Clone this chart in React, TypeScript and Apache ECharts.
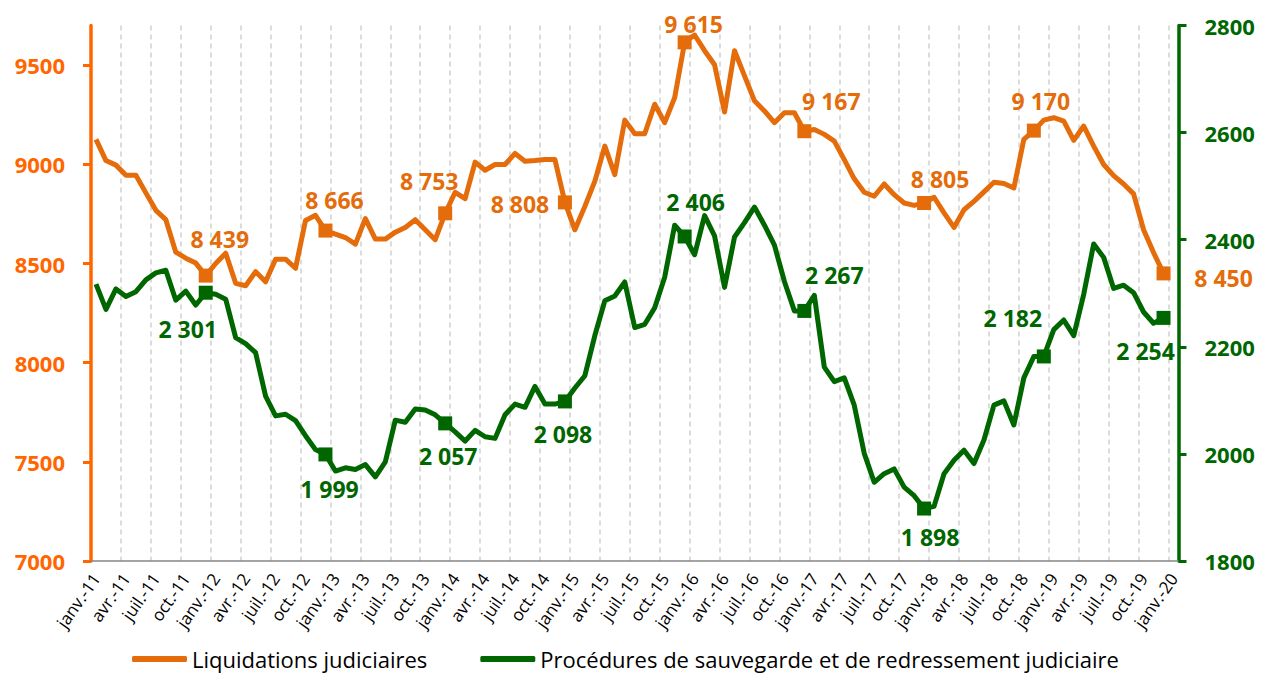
import React, { useEffect, useRef } from "react";
import * as echarts from "echarts";

const monthNames = ["janv.", "févr.", "mars", "avr.", "mai", "juin", "juil.", "août", "sept.", "oct.", "nov.", "déc."];
const years = ["11", "12", "13", "14", "15", "16", "17", "18", "19"];
const categories: string[] = [];
years.forEach((y) => monthNames.forEach((m) => categories.push(m + "-" + y)));
categories.push("janv.-20");

const liquidations = [
  9126, 9019, 8996, 8945, 8945, 8856, 8768, 8721, 8557, 8527, 8502, 8439,
  8500, 8552, 8400, 8388, 8459, 8408, 8522, 8522, 8476, 8717, 8743, 8666,
  8648, 8631, 8598, 8726, 8623, 8623, 8658, 8682, 8721, 8670, 8620, 8753,
  8859, 8827, 9011, 8970, 8999, 8999, 9055, 9016, 9019, 9024, 9024, 8808,
  8670, 8788, 8915, 9092, 8948, 9223, 9154, 9154, 9303, 9210, 9336, 9615,
  9652, 9573, 9502, 9264, 9573, 9446, 9320, 9269, 9210, 9260, 9260, 9167,
  9176, 9151, 9117, 9024, 8927, 8859, 8839, 8901, 8847, 8805, 8793, 8805,
  8834, 8755, 8682, 8771, 8813, 8861, 8910, 8903, 8881, 9126, 9170, 9223,
  9235, 9218, 9121, 9193, 9092, 8999, 8943, 8901, 8851, 8670, 8555, 8450,
];

const sauvegarde = [
  2317, 2270, 2308, 2294, 2303, 2325, 2338, 2343, 2287, 2304, 2278, 2301,
  2298, 2289, 2217, 2206, 2189, 2108, 2071, 2074, 2062, 2034, 2008, 1999,
  1968, 1974, 1971, 1980, 1957, 1985, 2063, 2059, 2084, 2082, 2073, 2057,
  2041, 2024, 2044, 2032, 2029, 2073, 2093, 2087, 2126, 2093, 2093, 2098,
  2123, 2146, 2221, 2286, 2295, 2321, 2236, 2242, 2273, 2330, 2427, 2406,
  2372, 2445, 2407, 2311, 2405, 2432, 2461, 2427, 2390, 2322, 2267, 2267,
  2296, 2162, 2135, 2142, 2091, 2001, 1947, 1963, 1972, 1938, 1922, 1898,
  1902, 1963, 1988, 2007, 1982, 2026, 2091, 2099, 2054, 2142, 2182, 2182,
  2232, 2250, 2221, 2298, 2392, 2367, 2309, 2315, 2301, 2265, 2244, 2254,
];

const leftTicks = [7000, 7500, 8000, 8500, 9000, 9500];
const rightTicks = [1800, 2000, 2200, 2400, 2600, 2800];

// labelled points (index -> label offset in px)
const liqMarks: Record<number, [number, number]> = {
  11: [14, -37], 23: [9, -31], 35: [-16, -32], 47: [-45, 2], 59: [9, -18],
  71: [27, -30], 83: [16, -24], 94: [7, -30], 107: [60, 5],
};
const sauvMarks: Record<number, [number, number]> = {
  11: [-18, 36], 23: [4, 35], 35: [3, 33], 47: [-2, 33], 59: [11, -34],
  71: [30, -36], 83: [6, 28], 95: [-31, -38], 107: [-18, 33],
};

const ORANGE = "#E46C0A";
const ORANGE_AXIS = "#FF6600";
const GREEN = "#006600";
const FONT = "'Open Sans', 'Noto Sans', sans-serif";

const fmt = (v: number) => String(v).replace(/\B(?=(\d{3})+(?!\d))/g, " ");

function buildData(values: number[], marks: Record<number, [number, number]>, color: string) {
  return values.map((v, i) => {
    const off = marks[i];
    if (!off) return { value: v, symbol: "none" };
    return {
      value: v,
      symbol: "rect",
      symbolSize: 14,
      label: {
        show: true,
        position: "inside",
        offset: off,
        formatter: () => fmt(v),
        color,
        fontSize: 23,
        fontWeight: "bold",
        fontFamily: FONT,
      },
    };
  });
}

export default function App() {
  const ref = useRef<HTMLDivElement>(null);
  useEffect(() => {
    if (!ref.current) return;
    const chart = echarts.init(ref.current, undefined, { renderer: "svg" });
    chart.setOption({
      animation: false,
      backgroundColor: "#ffffff",
      grid: { left: 91, right: 82.5, top: 25.5, bottom: 114 },
      legend: {
        left: 127,
        top: 643,
        itemWidth: 55,
        itemHeight: 6,
        itemGap: 53,
        icon: "roundRect",
        textStyle: { fontSize: 22, color: "#000", fontFamily: FONT },
        data: [
          { name: "Liquidations judiciaires", itemStyle: { color: ORANGE } },
          { name: "Procédures de sauvegarde et de redressement judiciaire", itemStyle: { color: GREEN } },
        ],
      },
      xAxis: {
        type: "category",
        data: categories,
        boundaryGap: true,
        axisLine: { onZero: false, lineStyle: { color: "#868686", width: 1.5 } },
        axisTick: { interval: 2, length: 6, lineStyle: { color: "#868686", width: 1.5 } },
        axisLabel: {
          interval: 2,
          rotate: 55,
          margin: 14,
          fontSize: 17,
          color: "#000",
          fontFamily: FONT,
        },
        splitLine: {
          show: true,
          interval: 2,
          lineStyle: { color: "#D0D0D0", width: 1.5, type: [5, 4] },
        },
      },
      yAxis: [
        {
          type: "value",
          position: "left",
          min: 7000,
          max: 9700,
          interval: 500,
          splitLine: { show: false },
          axisLine: { show: true, lineStyle: { color: ORANGE_AXIS, width: 3.5 } },
          axisTick: { show: true, customValues: leftTicks, length: 8, lineStyle: { color: ORANGE_AXIS, width: 3 } },
          axisLabel: {
            customValues: leftTicks,
            formatter: (v: number) => String(v),
            margin: 26,
            color: ORANGE_AXIS,
            fontSize: 22,
            fontWeight: "bold",
            fontFamily: FONT,
          },
        },
        {
          type: "value",
          position: "right",
          min: 1800,
          max: 2800,
          interval: 200,
          splitLine: { show: false },
          axisLine: { show: true, lineStyle: { color: GREEN, width: 3.5 } },
          axisTick: { show: true, customValues: rightTicks, length: 8, lineStyle: { color: GREEN, width: 3 } },
          axisLabel: {
            customValues: rightTicks,
            formatter: (v: number) => String(v),
            margin: 26,
            color: GREEN,
            fontSize: 22,
            fontWeight: "bold",
            fontFamily: FONT,
          },
        },
      ],
      series: [
        {
          name: "Liquidations judiciaires",
          type: "line",
          yAxisIndex: 0,
          data: buildData(liquidations, liqMarks, ORANGE),
          showAllSymbol: true,
          lineStyle: { color: ORANGE, width: 5, join: "round" },
          itemStyle: { color: ORANGE },
          emphasis: { disabled: true },
          z: 3,
        },
        {
          name: "Procédures de sauvegarde et de redressement judiciaire",
          type: "line",
          yAxisIndex: 1,
          data: buildData(sauvegarde, sauvMarks, GREEN),
          showAllSymbol: true,
          lineStyle: { color: GREEN, width: 5, join: "round" },
          itemStyle: { color: GREEN },
          emphasis: { disabled: true },
          z: 2,
        },
      ],
    });
    return () => chart.dispose();
  }, []);
  return (
    <div
      ref={ref}
      style={{ position: "absolute", left: 0, top: 0, width: 1261, height: 675 }}
    />
  );
}
